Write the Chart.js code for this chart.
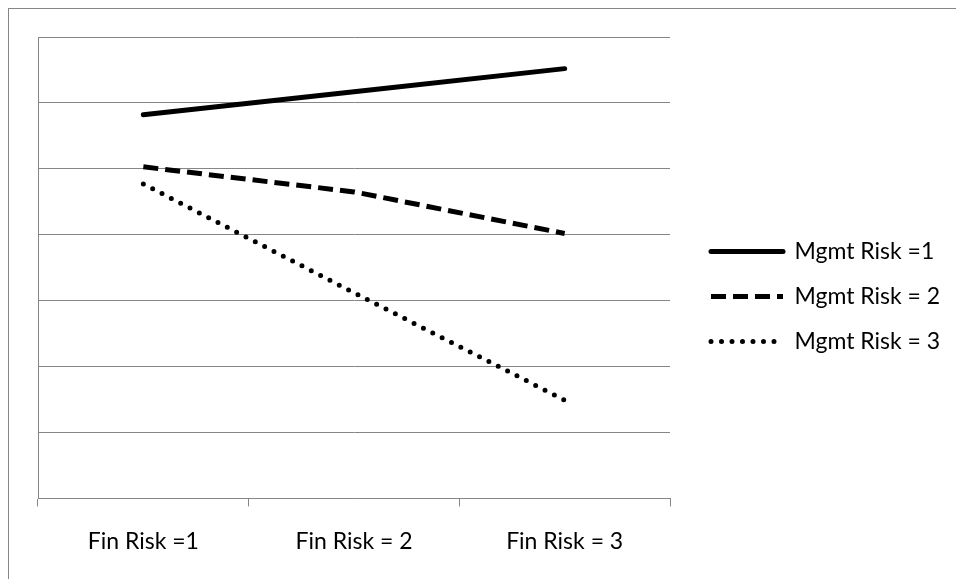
<!DOCTYPE html>
<html>
<head>
<meta charset="utf-8">
<script src="https://cdn.jsdelivr.net/npm/chart.js@4.4.1/dist/chart.umd.min.js"></script>
<style>
    body { margin: 0; background: #fff; overflow: hidden; }
    #wrap { position: relative; width: 956px; height: 579px; }
    #frame { position: absolute; left: 8px; top: 8px; width: 1000px; height: 1000px; border-left: 1px solid #868686; border-top: 1px solid #868686; }
    canvas { position: absolute; left: 0; top: 0; }
</style>
</head>
<body>
<div id="wrap">
    <div id="frame"></div>
    <canvas id="riskChart" width="956" height="579"></canvas>
</div>
<script>
// categories and series (y axis runs 0..7, no labels)
const categories = ['Fin Risk =1', 'Fin Risk = 2', 'Fin Risk = 3'];
const seriesNames = ['Mgmt Risk =1', 'Mgmt Risk = 2', 'Mgmt Risk = 3'];
const mgmtRisk1 = [5.82, 6.17, 6.52];
const mgmtRisk2 = [5.03, 4.65, 4.02];
const mgmtRisk3 = [4.77, 3.12, 1.49];
const yMin = 0;
const yMax = 7;

const gridColor = '#868686';
const labelFont = { family: 'Lato, Carlito, "Open Sans", sans-serif', size: 23 };
const legendWidth = 259;

// legend lines copy the dash / width of their dataset
function legendLabels(chart) {
    const items = Chart.defaults.plugins.legend.labels.generateLabels(chart);
    items.forEach((item, i) => {
        const ds = chart.data.datasets[i];
        item.pointStyle = 'line';
        item.lineDash = ds.borderDash || [];
        item.lineWidth = ds.borderWidth;
        item.lineCap = ds.borderCapStyle;
        item.strokeStyle = ds.borderColor;
    });
    return items;
}

// the layout caps a side legend at a quarter of the width, let it be wider
const wideLegend = {
    id: 'wideLegend',
    beforeLayout(chart) {
        const lg = chart.legend;
        if (lg && !lg._wide) {
            const fit = lg.fit;
            lg.fit = function () {
                fit.call(this);
                this.width = legendWidth;
            };
            lg._wide = true;
        }
    }
};

function makeChart() {
    const ctx = document.getElementById('riskChart').getContext('2d');
    new Chart(ctx, {
        type: 'line',
        data: {
            labels: categories,
            datasets: [
                {
                    label: seriesNames[0],
                    data: mgmtRisk1,
                    borderColor: '#000',
                    borderWidth: 5,
                    borderCapStyle: 'round'
                },
                {
                    label: seriesNames[1],
                    data: mgmtRisk2,
                    borderColor: '#000',
                    borderWidth: 5,
                    borderDash: [15, 7],
                    borderCapStyle: 'butt'
                },
                {
                    label: seriesNames[2],
                    data: mgmtRisk3,
                    borderColor: '#000',
                    borderWidth: 5,
                    borderDash: [0, 10.5],
                    borderCapStyle: 'round'
                }
            ]
        },
        plugins: [wideLegend],
        options: {
            responsive: false,
            animation: false,
            elements: {
                point: { radius: 0, hoverRadius: 0 },
                line: { tension: 0, fill: false }
            },
            layout: {
                padding: { left: 38, top: 17, right: 8, bottom: 3 }
            },
            scales: {
                x: {
                    offset: true,
                    grid: {
                        offset: true,
                        drawOnChartArea: false,
                        drawTicks: true,
                        tickLength: 8,
                        color: gridColor
                    },
                    border: { color: gridColor, width: 1 },
                    ticks: {
                        color: '#000',
                        font: labelFont,
                        padding: 21,
                        maxRotation: 0
                    }
                },
                y: {
                    min: yMin,
                    max: yMax,
                    ticks: { display: false, stepSize: 1 },
                    grid: { color: gridColor, drawTicks: false },
                    border: { color: gridColor, width: 1 }
                },
                // empty strip above the plot
                topGap: {
                    type: 'linear',
                    position: 'top',
                    display: true,
                    grid: { display: false },
                    border: { display: false },
                    ticks: { display: false },
                    afterFit: (scale) => { scale.height = 20; }
                },
                // spacer between plot and legend
                gap: {
                    type: 'linear',
                    position: 'right',
                    display: true,
                    grid: { display: false },
                    border: { display: false },
                    ticks: { display: false },
                    afterFit: (scale) => { scale.width = 19; }
                }
            },
            plugins: {
                legend: {
                    position: 'right',
                    labels: {
                        usePointStyle: true,
                        pointStyle: 'line',
                        pointStyleWidth: 72,
                        color: '#000',
                        font: labelFont,
                        padding: 22,
                        generateLabels: legendLabels
                    }
                },
                tooltip: { enabled: false }
            }
        }
    });
}

makeChart();
</script>
</body>
</html>
